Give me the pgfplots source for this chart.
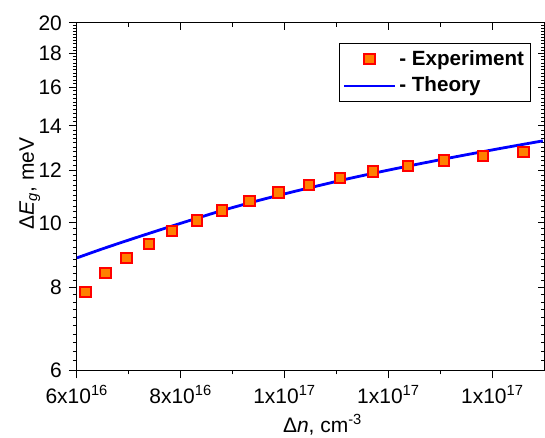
\documentclass[border=0pt]{standalone}
\usepackage{fontspec}
\setmainfont{Liberation Sans}
\usepackage{pgfplots}
\usepackage{pgfplotstable}
\pgfplotsset{compat=1.18}
\usetikzlibrary{calc}

\definecolor{expfill}{RGB}{255,128,0}
\definecolor{expedge}{RGB}{255,0,0}
\definecolor{theoryline}{RGB}{0,0,255}

% measured band-gap shift
\pgfplotstableread{
n          dE
6.167e16   7.88
6.552e16   8.41
6.956e16   8.86
7.385e16   9.29
7.833e16   9.73
8.308e16   10.09
8.794e16   10.44
9.321e16   10.80
9.879e16   11.11
1.0462e17  11.41
1.1058e17  11.69
1.1698e17  11.95
1.2371e17  12.18
1.3071e17  12.41
1.3813e17  12.62
1.4596e17  12.79
}\experiment

% calculated band-gap shift
\pgfplotstableread{
n          dE
6.000e16   8.86
6.506e16   9.15
7.148e16   9.51
7.788e16   9.87
8.302e16   10.16
8.813e16   10.45
9.456e16   10.79
1.0096e17  11.11
1.0673e17  11.39
1.1250e17  11.67
1.2019e17  12.02
1.2788e17  12.36
1.3365e17  12.61
1.4135e17  12.94
1.4967e17  13.29
}\theory

\pgfplotsset{
  gapaxis/.style={
    scale only axis,
    width=234pt, height=173.85pt,
    xmin=6e16, xmax=1.5e17,
    ymin=6, ymax=20,
    scaled x ticks=false,
    xtick={6e16,8e16,1e17,1.2e17,1.4e17},
    minor xtick={7e16,9e16,1.1e17,1.3e17},
    ytick={6,8,10,12,14,16,18,20},
    minor ytick={6.2,6.4,...,19.8},
    axis line style={black, line width=0.5pt},
    every tick/.style={black, line width=0.5pt},
    tick label style={font=\fontsize{10.5}{12}\selectfont},
  },
  markleg/.style={legend image code/.code={\draw[##1, mark repeat=2, mark phase=2]
    plot coordinates {(0pt,0pt) (12.75pt,0pt) (25.5pt,0pt)};}},
  lineleg/.style={legend image code/.code={\draw[##1] (0pt,0pt) -- (25.5pt,0pt);}},
}

\begin{document}
\begin{tikzpicture}
% ticks on the top and right edges, pointing inwards
\begin{semilogyaxis}[gapaxis,
  xtick pos=right, ytick pos=right,
  tick align=inside,
  major tick length=3.5pt, minor tick length=2pt,
  xticklabels={}, yticklabels={},
]
\end{semilogyaxis}
% main axis: outward ticks with labels on bottom and left
\begin{semilogyaxis}[gapaxis, name=main,
  xtick pos=left, ytick pos=left,
  tick align=outside,
  major tick length=4pt, minor tick length=2pt,
  xticklabels={6x10\textsuperscript{16},8x10\textsuperscript{16},1x10\textsuperscript{17},1x10\textsuperscript{17},1x10\textsuperscript{17}},
  yticklabels={6,8,10,12,14,16,18,20},
  xlabel={Δ\textit{n}, cm\textsuperscript{-3}},
  ylabel={Δ\textit{E}\textsubscript{\textit{g}}, meV},
  label style={font=\fontsize{10.5}{12}\selectfont},
  xlabel style={at={(axis description cs:0.5256,-0.1792)}, anchor=base},
  ylabel style={at={(axis description cs:-0.0919,0.537)}, anchor=base},
  legend style={at={(axis description cs:1,1)}, anchor=north east,
    xshift=-7pt, yshift=-9.85pt,
    draw=black, line width=0.5pt,
    font=\fontsize{10.3}{12}\bfseries\selectfont,
    inner xsep=1.5pt, inner ysep=2pt,
    nodes={inner sep=1.5pt}, row sep=1.5pt},
  legend cell align=left,
]
\addplot[only marks, mark=square*, mark size=2.6pt,
  mark options={fill=expfill, draw=expedge, line width=1pt}, markleg]
  table[x=n, y=dE] {\experiment};
\addlegendentry{- Experiment}
\addplot[theoryline, line width=1.4pt, no marks, smooth, lineleg]
  table[x=n, y=dE] {\theory};
\addlegendentry{- Theory}
\end{semilogyaxis}
\pgfresetboundingbox
\path ($(main.south west)+(-38.5pt,-33.65pt)$) rectangle ($(main.north east)+(0.25pt,11.5pt)$);
\end{tikzpicture}
\end{document}
